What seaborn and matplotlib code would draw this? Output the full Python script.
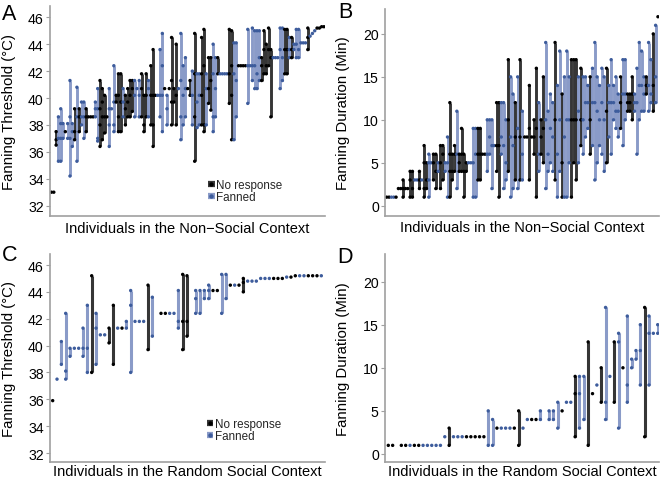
import matplotlib
matplotlib.use("Agg")
import matplotlib.pyplot as plt
from matplotlib.lines import Line2D
import pandas as pd
import seaborn as sns

# ---------------- data ----------------
# status per individual: N = No response, F = Fanned
a_status = ("NNNFFFNFFF NFNFFNNNNF FNNNNFFFNN NFNNNNFFFN NNFNNNFFFN "
            "FNNNNFFFFN NFNFFNNFNN FFNFFFFNNF FNNNNFFFFF FNNNNNFFFF "
            "FNNFNFFFFF FNFFFNNNN").replace(" ", "")
a_values = [
    [33.0], [33.0], [37.5, 36.9, 36.5], [38.6, 37.0, 35.3], [39.2, 38.1, 37.0, 35.3],
    [38.1, 37.0], [37.5], [38.1, 37.0], [41.3, 38.6, 37.0, 34.2], [38.1, 37.5, 36.4],
    [39.2, 37.5, 36.9], [40.8, 38.6, 35.3], [39.2, 38.6, 37.5], [39.7, 38.6, 38.0], [39.7, 38.6, 37.0],
    [39.2, 38.6, 37.5], [38.6], [38.6], [38.6], [39.7, 39.2, 38.6],
    [40.7, 39.2, 37.0, 36.8], [41.3, 39.2, 38.0, 36.4], [40.7, 39.7, 38.6, 36.9], [40.2, 38.6, 37.4], [38.6],
    [40.7, 39.2, 38.0, 36.4], [39.2], [42.4, 39.7, 38.0, 37.5], [40.2, 39.7], [41.8, 40.2, 38.6, 37.5],
    [41.8, 39.7, 37.5], [40.7, 39.7, 38.6], [40.2, 39.2, 38.0], [40.7, 39.7, 38.6], [41.3, 40.2, 38.6],
    [41.3, 40.7, 39.0], [41.3, 40.2, 38.6], [40.7], [41.3, 40.2, 38.6], [41.8, 40.7, 38.6],
    [40.2, 38.0, 37.5], [41.8, 40.2, 38.6], [41.3, 40.7, 38.6], [42.4, 40.2, 38.0], [43.6, 40.2, 38.0, 36.4],
    [40.2], [40.2], [43.6, 40.2, 38.6], [44.8, 42.4, 40.2, 37.5], [40.7],
    [40.2, 39.2, 38.0], [40.7], [44.5, 41.3, 39.7, 38.0], [40.7, 39.7], [44.0, 40.2, 38.0],
    [40.7], [44.8, 41.3, 38.6, 36.9], [42.4, 40.2, 38.0], [43.0, 40.7, 38.6], [40.7],
    [41.3, 40.2], [42.0, 40.2, 38.0], [44.8, 41.8, 38.6, 35.3], [41.8, 39.7, 37.8], [41.8, 40.2, 38.0],
    [44.5, 41.8, 40.2, 38.0], [45.1, 42.4, 38.0, 37.5], [41.8, 40.7, 38.0], [43.0, 40.7, 39.6], [43.0, 41.3, 39.1],
    [44.0, 41.8, 38.6, 37.5], [43.0, 40.7, 38.6], [43.0, 41.8], [41.8], [41.8],
    [41.8], [41.8], [45.1, 41.8, 39.6], [45.0, 42.4, 40.2, 36.9], [44.1, 41.8, 36.9],
    [44.1, 41.3, 38.6], [42.4], [42.4], [42.4], [42.4],
    [45.1, 42.4, 39.6], [42.4], [45.2, 42.4, 41.3], [45.0, 42.4, 40.7], [45.0, 41.8, 40.7],
    [45.0, 43.0, 41.3], [43.0, 42.4, 41.3], [45.0, 43.6, 41.8], [44.0, 42.4, 41.8], [45.2, 43.6, 42.4],
    [43.6, 43.0, 38.6], [43.0], [43.0], [43.0], [45.2, 43.6, 40.7],
    [45.2, 43.0, 41.3], [45.1, 43.6, 41.8], [45.1, 43.6, 41.8], [44.5, 43.6, 43.0], [44.5, 43.6, 43.0],
    [44.0, 43.6], [45.1, 44.0, 43.0], [45.1, 43.6, 43.0], [44.1], [44.1],
    [44.1], [45.2, 44.5, 43.6], [44.6], [44.8], [45.0], [45.2], [45.2], [45.3], [45.3],
]

b_status = ("NNFFNNNNNN NNFFNFNNFF NNFNNFFNNN FNNNNFFFFN NNNFFFFNNF "
            "FFNFFNFNFN NNNNNFNNFF FFNFFNFFFN NNFNFFFNFF FFFFNFFFFF "
            "NFFNNNFFFF FNFFNFN").replace(" ", "")
b_values = [
    [1], [1], [1], [1], [1], [2], [2], [3, 2, 1], [2], [2],
    [4, 3, 1], [4, 2, 1], [3], [3], [4, 3, 2], [3], [7, 5, 2, 1], [5, 3, 2], [6, 5, 3, 1], [5],
    [6, 5, 3], [6, 4, 2], [5, 4], [7, 5, 2], [7, 6, 3], [5, 4], [8, 5, 1], [12, 6, 4, 1], [6, 4, 3], [7, 6, 4],
    [11, 6, 2], [6, 5, 4], [9, 6, 4], [6, 4, 1], [5, 4], [5], [5], [9, 5, 1], [9, 6, 1], [9, 6, 3],
    [9, 6, 3], [6], [6], [10, 6, 4], [10, 8, 6], [10, 7, 2], [7], [12, 7, 4], [12, 7, 1], [12, 8, 6],
    [12, 7, 2], [10, 5, 3], [17, 10, 4], [15, 8, 1], [13, 7, 2], [12, 8, 3], [15, 9, 2], [17, 8, 3], [11, 6, 3], [8],
    [8], [14, 9, 3], [8], [10, 8, 6], [16, 9, 1], [12, 6, 4], [10, 8, 6], [15, 9, 5], [19, 10, 2], [11, 6, 4],
    [13, 9, 5], [12, 8, 4], [19, 10, 3], [14, 6, 1], [18, 10, 4], [13, 5, 1], [15, 8, 1], [18, 10, 1], [15, 10, 5], [17, 10, 1],
    [17, 10, 5], [17, 10, 3], [15, 11, 5], [16, 10, 7], [15, 10, 6], [15, 12, 8], [14, 12, 9], [15, 10, 6], [16, 12, 7], [19, 12, 3],
    [15, 11, 5], [14, 10, 7], [16, 12, 6], [15, 10, 4], [16, 11, 5], [14, 12, 8], [17, 12, 6], [14, 12, 10], [15, 11, 9], [13, 11, 8],
    [15, 12, 9], [17, 13, 7], [17, 13, 10], [13, 12, 11], [13, 12, 11], [15, 13, 10], [13, 12, 11], [16, 12, 6], [19, 14, 10], [18, 14, 11],
    [15, 13, 11], [15, 14, 13], [19, 14, 11], [17, 13, 12], [20, 14, 11], [21, 15, 12], [22],
]

c_status = ("NFFFFFFFFN FFFNNFNFFF FFNFNNNFFF NNNFFFFNNF FNFNNFFFFF "
            "FNNNFNNFFN NNF").replace(" ", "")
c_values = [
    [35.9], [37.5], [40.3, 38.6], [42.4, 38.1, 37.5], [39.8, 39.2],
    [39.8], [39.8], [41.3, 39.8, 39.2], [43.0, 39.8, 38.0], [45.2, 38.0],
    [42.4, 41.3, 38.6], [40.8], [40.8], [41.3, 40.2], [43.0, 38.6],
    [41.3], [41.3], [41.8, 41.3], [44.1, 43.0, 38.0], [41.8],
    [41.8], [41.8], [44.5, 39.7], [43.6, 40.7], [],
    [42.4], [42.4], [42.4], [42.4], [44.1, 41.8, 41.3],
    [45.3, 41.8, 39.7], [45.2, 41.8, 40.7], [], [44.1, 43.5, 42.4], [44.1, 42.4],
    [44.1, 43.5], [44.5, 44.1, 43.5], [44.1], [44.1], [45.3, 42.4],
    [45.3, 43.5], [44.5], [44.5], [44.5], [45.0, 44.7, 44.0],
    [44.8], [44.8], [44.8], [45.0], [45.0],
    [45.0], [45.0], [45.0], [45.0], [45.1],
    [45.1], [45.2], [45.2], [45.2], [45.2],
    [45.2], [45.2], [45.2],
]

d_status = ("NNNNNFNNFF FFFFNFFFNN NNNFFNFFFN NFFNNFNFFF NFFNFFNNFN "
            "FFNFNFFFFN FFF").replace(" ", "")
d_values = [
    [1], [1], [], [1], [1], [1], [1], [1], [1], [1],
    [1], [1], [1], [2], [1, 3], [2], [2], [2], [2], [2],
    [2], [2], [2], [1, 5], [1, 4], [3], [3], [3], [3], [3],
    [1, 5], [3], [4], [4], [4], [4, 5], [], [4, 5], [4, 5], [3, 6],
    [5], [6], [6], [2, 7, 9], [3, 7, 9], [4, 9], [1, 13], [7], [8], [6, 10],
    [4, 6, 17], [9], [6, 13], [3, 13, 14], [10], [6, 8, 16], [10, 11], [11, 12], [8, 12, 15], [2, 17],
    [8, 14, 16], [14], [14, 15],
]

temp_ticks = [32, 34, 36, 38, 40, 42, 44, 46]
dur_ticks = [0, 5, 10, 15, 20]

# ---------------- style ----------------
sns.set_theme(style="white")
plt.rcParams["font.family"] = ["Liberation Sans", "DejaVu Sans"]

CODE = {"N": "No response", "F": "Fanned"}
LINE = {"No response": "#363636", "Fanned": "#8a9bc8"}
PT = {"No response": "#000000", "Fanned": "#3d5c9c"}
SPINE = "#a0a0a0"


def frame(status, values):
    rows = []
    for i, (s, vals) in enumerate(zip(status, values)):
        for v in vals:
            rows.append({"ind": i, "value": v, "status": CODE[s]})
    return pd.DataFrame(rows)


def panel(ax, status, values, xlim, ylim, yticks, ylabel, xlabel, lw, ylab_x, xlab_y):
    df = frame(status, values)
    rng = (df.groupby("ind")
             .agg(lo=("value", "min"), hi=("value", "max"), status=("status", "first"))
             .reset_index())
    ax.vlines(rng["ind"], rng["lo"], rng["hi"],
              colors=[LINE[s] for s in rng["status"]], linewidth=lw, zorder=1)
    sns.scatterplot(data=df, x="ind", y="value", hue="status", palette=PT,
                    s=6, linewidth=0, legend=False, ax=ax, zorder=2)
    ax.set_xlim(*xlim)
    ax.set_ylim(*ylim)
    ax.set_xticks([])
    ax.set_yticks(yticks)
    ax.set_yticklabels([str(t) for t in yticks])
    for side in ["top", "right"]:
        ax.spines[side].set_visible(False)
    for side in ["left", "bottom"]:
        ax.spines[side].set_color(SPINE)
        ax.spines[side].set_linewidth(1.2)
    ax.tick_params(axis="y", left=True, length=3, width=0.8, color=SPINE,
                   labelsize=10.2, pad=1.5, labelcolor="black")
    ax.set_ylabel(ylabel, fontsize=10.8, color="black")
    ax.set_xlabel(xlabel, fontsize=10.5, color="black")
    ax.yaxis.set_label_coords(ylab_x, 0.5)
    ax.xaxis.set_label_coords(0.5, xlab_y)


def legend(ax, anchor):
    handles = [Line2D([0], [0], color=LINE[k], lw=4.5, solid_capstyle="butt",
                      marker="o", ms=2.2, mfc=PT[k], mec=PT[k])
               for k in ["No response", "Fanned"]]
    ax.legend(handles, ["No response", "Fanned"], loc="upper left",
              bbox_to_anchor=anchor, frameon=False, fontsize=8.4,
              handlelength=0.55, handletextpad=0.15, labelspacing=0.0,
              borderpad=0, borderaxespad=0)


fig = plt.figure(figsize=(6.6, 4.81), dpi=100)
W, H = 660, 481
axA = fig.add_axes([50 / W, 1 - 217 / H, 275 / W, 210 / H])
axB = fig.add_axes([385 / W, 1 - 216.7 / H, 274 / W, 206.7 / H])
axC = fig.add_axes([50 / W, 1 - 463 / H, 275 / W, 208 / H])
axD = fig.add_axes([385 / W, 1 - 463 / H, 274 / W, 208 / H])

panel(axA, a_status, a_values, (-0.65, len(a_values) - 1 + 0.45), (31.23, 46.84),
      temp_ticks, "Fanning Threshold (°C)", "Individuals in the Non\u2212Social Context",
      2.1, -0.122, -0.022)
panel(axB, b_status, b_values, (-0.73, len(b_values) - 1 + 0.45), (-1.16, 22.9),
      dur_ticks, "Fanning Duration (Min)", "Individuals in the Non\u2212Social Context",
      2.1, -0.126, -0.022)
panel(axC, c_status, c_values, (-0.62, 62.85), (31.33, 46.82),
      temp_ticks, "Fanning Threshold (°C)", "Individuals in the Random Social Context",
      2.2, -0.122, -0.012)
panel(axD, d_status, d_values, (-0.76, 62.3), (-0.93, 23.2),
      dur_ticks, "Fanning Duration (Min)", "Individuals in the Random Social Context",
      2.2, -0.126, -0.012)

legend(axA, (0.575, 0.175))
legend(axC, (0.571, 0.212))

for lab, x, y in [("A", 1.5, 3.5), ("B", 338.5, 2.5), ("C", 1.5, 245.5), ("D", 337.5, 247.5)]:
    fig.text(x / W, 1 - y / H, lab, fontsize=15.5, va="top", ha="left", color="black")

fig.savefig("out.png", dpi=100)
